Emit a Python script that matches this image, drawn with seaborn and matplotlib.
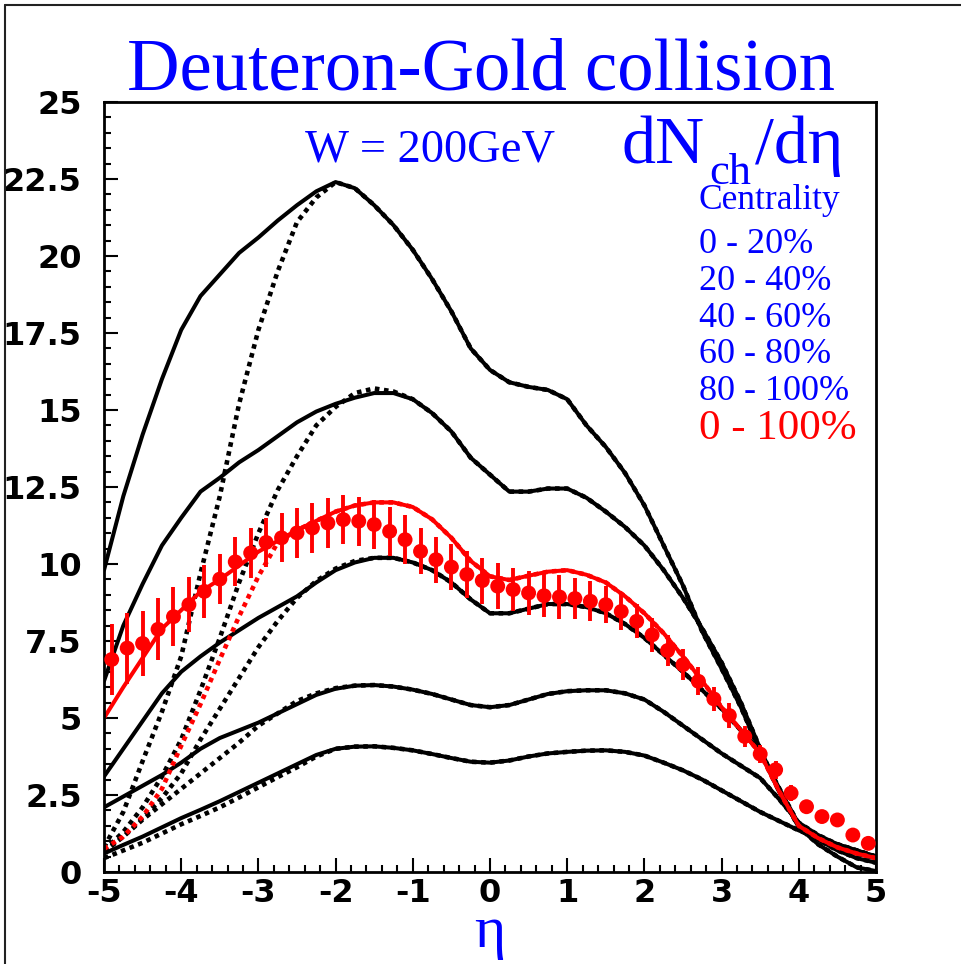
import numpy as np
import matplotlib
matplotlib.use("Agg")
import matplotlib.pyplot as plt
import seaborn as sns

# pseudorapidity grid of the model curves (step 0.25)
eta = list(np.round(np.arange(-5, 5.001, 0.25), 2))

# model dN/deta, solid curves (one per centrality class)
c_0_20 = [9.8, 12.2, 14.2, 16.0, 17.6, 18.7, 19.4, 20.1, 20.6, 21.15,
          21.65, 22.1, 22.4, 22.2, 21.65, 21.0, 20.2, 19.25, 18.2, 17.0,
          16.3, 15.9, 15.75, 15.65, 15.35, 14.5, 13.8, 12.95, 11.9, 10.6,
          9.3, 7.8, 6.6, 5.35, 3.9, 2.6, 1.45, 0.9, 0.5, 0.15, 0.03]
c_20_40 = [6.2, 8.0, 9.35, 10.6, 11.5, 12.35, 12.8, 13.3, 13.7, 14.15,
           14.6, 14.95, 15.2, 15.4, 15.55, 15.55, 15.35, 14.9, 14.3, 13.45,
           12.9, 12.35, 12.35, 12.45, 12.45, 12.15, 11.7, 11.2, 10.6, 9.8,
           8.9, 7.9, 6.8, 5.5, 4.0, 2.6, 1.5, 1.05, 0.7, 0.45, 0.3]
c_40_60 = [3.1, 4.0, 4.9, 5.8, 6.5, 7.0, 7.45, 7.85, 8.25, 8.6,
           8.95, 9.4, 9.8, 10.05, 10.2, 10.2, 10.05, 9.8, 9.4, 8.85,
           8.4, 8.4, 8.55, 8.7, 8.7, 8.6, 8.4, 8.05, 7.6, 7.05,
           6.5, 5.9, 5.3, 4.6, 3.9, 2.7, 1.55, 1.1, 0.8, 0.6, 0.45]
c_60_80 = [2.1, 2.45, 2.8, 3.15, 3.55, 4.0, 4.35, 4.6, 4.85, 5.15,
           5.45, 5.75, 5.95, 6.05, 6.07, 6.02, 5.92, 5.78, 5.6, 5.42,
           5.35, 5.42, 5.6, 5.78, 5.87, 5.9, 5.9, 5.8, 5.6, 5.2,
           4.75, 4.3, 3.85, 3.45, 3.05, 2.35, 1.6, 1.2, 0.9, 0.7, 0.5]
c_80_100 = [0.6, 0.88, 1.15, 1.45, 1.75, 2.02, 2.3, 2.6, 2.9, 3.2,
            3.5, 3.8, 4.0, 4.07, 4.08, 4.03, 3.95, 3.83, 3.7, 3.58,
            3.55, 3.62, 3.75, 3.85, 3.9, 3.94, 3.95, 3.9, 3.78, 3.55,
            3.3, 3.0, 2.65, 2.3, 1.95, 1.65, 1.35, 1.1, 0.9, 0.7, 0.5]
c_0_100 = [5.0, 6.0, 6.95, 7.9, 8.5, 9.1, 9.5, 9.95, 10.4, 10.75,
           11.1, 11.4, 11.7, 11.9, 12.0, 12.0, 11.85, 11.45, 10.85, 10.1,
           9.6, 9.48, 9.62, 9.75, 9.8, 9.65, 9.4, 8.95, 8.4, 7.75,
           7.0, 6.2, 5.35, 4.6, 3.85, 2.6, 1.5, 1.1, 0.8, 0.6, 0.45]

# dotted variants: only the forward (negative eta) part differs
d_0_20_left = [0.8, 1.95, 3.6, 5.2, 7.0, 9.7, 12.2, 15.2, 17.6, 19.5,
               21.1, 21.9, 22.4]
d_20_40_left = [0.7, 1.3, 2.1, 3.1, 4.3, 5.9, 7.6, 9.4, 11.0, 12.4,
                13.5, 14.5, 15.1, 15.55, 15.7, 15.6]
d_40_60_left = [0.7, 1.15, 1.75, 2.4, 3.2, 4.3, 5.3, 6.3, 7.3, 8.15,
                8.9, 9.45, 9.85, 10.1]
d_60_80_left = [0.65, 1.15, 1.7, 2.2, 2.7, 3.2, 3.7, 4.2, 4.75, 5.15,
                5.55, 5.8, 5.97]
d_80_100_left = [0.45, 0.7, 0.95, 1.25, 1.55, 1.82, 2.1, 2.42, 2.75, 3.08,
                 3.4, 3.75, 4.0]
d_0_100_left = [0.75, 1.15, 1.8, 2.7, 4.1, 5.45, 6.9, 8.3, 9.6, 10.7, 11.1]

# measured minimum-bias points
data_eta = [-4.9, -4.7, -4.5, -4.3, -4.1, -3.9, -3.7, -3.5, -3.3, -3.1,
            -2.9, -2.7, -2.5, -2.3, -2.1, -1.9, -1.7, -1.5, -1.3, -1.1,
            -0.9, -0.7, -0.5, -0.3, -0.1, 0.1, 0.3, 0.5, 0.7, 0.9,
            1.1, 1.3, 1.5, 1.7, 1.9, 2.1, 2.3, 2.5, 2.7, 2.9,
            3.1, 3.3, 3.5, 3.7, 3.9, 4.1, 4.3, 4.5, 4.7, 4.9]
data_val = [6.9, 7.27, 7.42, 7.88, 8.29, 8.68, 9.11, 9.51, 10.07, 10.36,
            10.70, 10.85, 11.01, 11.17, 11.33, 11.44, 11.39, 11.28, 11.06, 10.79,
            10.41, 10.14, 9.90, 9.66, 9.46, 9.28, 9.17, 9.06, 8.97, 8.93,
            8.88, 8.79, 8.68, 8.46, 8.14, 7.70, 7.19, 6.73, 6.19, 5.62,
            5.08, 4.40, 3.83, 3.32, 2.56, 2.12, 1.80, 1.69, 1.20, 0.93]
data_err = [1.15, 1.15, 1.05, 1.0, 0.95, 0.9, 0.85, 0.8, 0.8, 0.8,
            0.8, 0.8, 0.8, 0.8, 0.8, 0.8, 0.8, 0.8, 0.8, 0.8,
            0.75, 0.75, 0.75, 0.75, 0.75, 0.75, 0.7, 0.7, 0.7, 0.7,
            0.65, 0.65, 0.6, 0.6, 0.55, 0.55, 0.5, 0.5, 0.45, 0.4,
            0.4, 0.35, 0.3, 0.3, 0.25, 0.2, 0.2, 0.15, 0.15, 0.1]

centrality_labels = ["0 - 20%", "20 - 40%", "40 - 60%", "60 - 80%", "80 - 100%"]
total_label = "0 - 100%"

W, H = 961, 964
BLUE = "#0000ff"
RED = "#ff0000"
SERIF = ["Liberation Serif", "DejaVu Serif"]
DOTS = (0, (1, 1))

sns.set_style("ticks")
fig = plt.figure(figsize=(W / 100, H / 100), dpi=100)
ax = fig.add_axes([104 / W, 1 - 872 / H, 772 / W, 770 / H])


def ftext(px, py, s, **kw):
    fig.text(px / W, 1 - py / H, s, **kw)


solids = [c_0_20, c_20_40, c_40_60, c_60_80, c_80_100]
lefts = [d_0_20_left, d_20_40_left, d_40_60_left, d_60_80_left, d_80_100_left]

for sol, left in zip(solids, lefts):
    sns.lineplot(x=eta, y=sol, ax=ax, color="black", lw=2.9)
    dotted = left + sol[len(left):]
    sns.lineplot(x=eta, y=dotted, ax=ax, color="black", lw=3.3,
                 linestyle=DOTS, dash_capstyle="butt")

red_dotted = d_0_100_left + c_0_100[len(d_0_100_left):]
sns.lineplot(x=eta, y=red_dotted, ax=ax, color=RED, lw=3.3,
             linestyle=DOTS, dash_capstyle="butt")
sns.lineplot(x=eta, y=c_0_100, ax=ax, color=RED, lw=2.9)

ax.errorbar(data_eta, data_val, yerr=data_err, fmt="none", ecolor=RED,
            elinewidth=2.8, capsize=0, zorder=5)
sns.scatterplot(x=data_eta, y=data_val, ax=ax, color=RED, s=115,
                edgecolor="none", zorder=6)

ax.set_xlim(-5, 5)
ax.set_ylim(0, 25)
ax.set_xticks(np.arange(-5, 5.1, 1))
ax.set_xticks(np.arange(-5, 5.01, 0.2), minor=True)
ax.set_yticks(np.arange(0, 25.1, 2.5))
ax.set_yticks(np.arange(0, 25.01, 0.5), minor=True)
ax.set_xticklabels([f"{v:g}" for v in np.arange(-5, 5.1, 1)])
ax.set_yticklabels([f"{v:g}" for v in np.arange(0, 25.1, 2.5)])
ax.tick_params(which="both", direction="in", width=1.5, colors="black",
               top=False, right=False)
ax.tick_params(which="major", length=10)
ax.tick_params(which="minor", length=5)
ax.tick_params(axis="y", which="major", pad=16)
ax.tick_params(axis="x", which="major", pad=4)
for lab in ax.get_xticklabels() + ax.get_yticklabels():
    lab.set_fontfamily("DejaVu Sans")
    lab.set_fontweight("bold")
    lab.set_fontsize(23)
for sp in ax.spines.values():
    sp.set_visible(True)
    sp.set_linewidth(2.0)
    sp.set_color("black")
ax.set_xlabel("")
ax.set_ylabel("")

# texts
ftext(481, 90, "Deuteron-Gold collision", color=BLUE, family=SERIF,
      fontsize=52.3, ha="center", va="baseline")
ftext(430, 161, "W = 200GeV", color=BLUE, family=SERIF, fontsize=33.5,
      ha="center", va="baseline")
ftext(622, 163, "dN", color=BLUE, family=SERIF, fontsize=49,
      ha="left", va="baseline")
ftext(709, 184, "ch", color=BLUE, family=SERIF, fontsize=32,
      ha="left", va="baseline")
ftext(755, 163, "/d\u03b7", color=BLUE, family=SERIF, fontsize=49,
      ha="left", va="baseline")
ftext(699, 209, "Centrality", color=BLUE, family=SERIF, fontsize=25.5,
      ha="left", va="baseline")
for i, lab in enumerate(centrality_labels):
    ftext(699, 253 + i * 36.8, lab, color=BLUE, family=SERIF, fontsize=26,
          ha="left", va="baseline")
ftext(699, 439, total_label, color=RED, family=SERIF, fontsize=31,
      ha="left", va="baseline")
ftext(490, 947, "\u03b7", color=BLUE, family=SERIF, fontsize=43,
      ha="center", va="baseline")

# outer frame (left and top edges visible)
fig.add_artist(plt.Line2D([5 / W, 5 / W], [0, 1 - 5 / H], transform=fig.transFigure,
                          color="#222222", lw=1.5))
fig.add_artist(plt.Line2D([5 / W, 1], [1 - 5 / H, 1 - 5 / H], transform=fig.transFigure,
                          color="#222222", lw=1.5))

fig.savefig("out.png", dpi=100)
